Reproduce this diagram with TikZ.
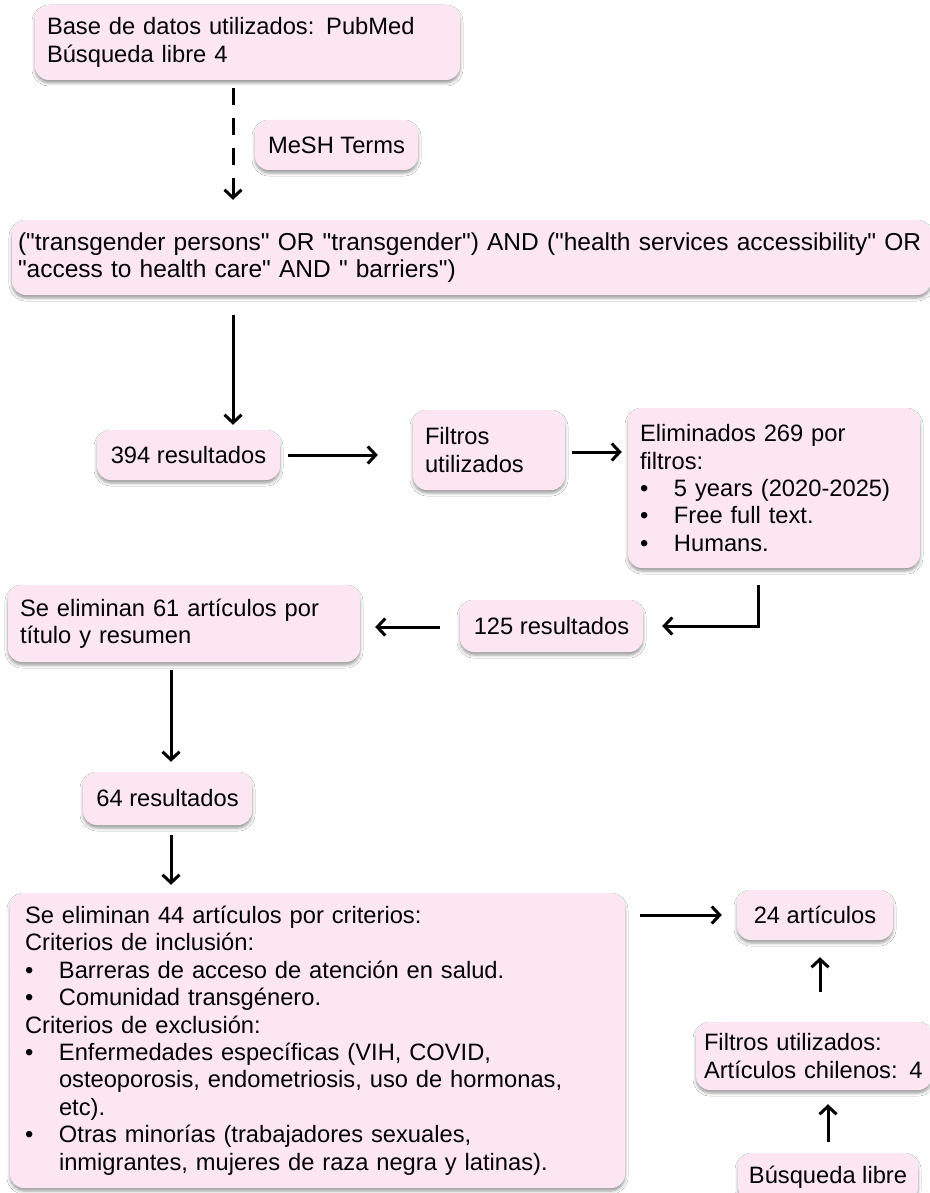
\documentclass[tikz,border=0pt]{standalone}
\usepackage{fontspec}
\setmainfont{Liberation Sans}[Ligatures=TeXOff]
\usetikzlibrary{arrows.meta,shadows.blur}
\definecolor{pinkfill}{HTML}{FCE6F2}
\newcommand{\bl}{\makebox[34pt][l]{•}}
\newcommand{\ind}{\hspace*{34pt}}
\begin{document}
\begin{tikzpicture}[x=1pt,y=-1pt,
  box/.style={rounded corners=14pt, fill=pinkfill, inner ysep=0pt, inner xsep=12pt,
    blur shadow={shadow xshift=0pt, shadow yshift=-3pt, shadow blur radius=3pt, shadow opacity=40},
    font=\fontsize{23.7}{27.4}\selectfont, align=left},
  cbox/.style={box, align=center, inner xsep=0pt},
  arr/.style={-{Straight Barb[length=8pt,width=17pt,line width=3pt]}, line width=3pt},
  darr/.style={arr, dash pattern=on 17pt off 13pt}]
\useasboundingbox (0,0) rectangle (929,1193);
\fill[white] (0,0) rectangle (929,1193);

\node[box, minimum height=75pt, text width=401pt] (top) at (247.5,42.5)
  {Base de datos utilizados: PubMed\\Búsqueda libre 4};
\node[cbox, minimum height=50pt, minimum width=163pt] (mesh) at (336.5,145) {MeSH Terms};
\node[box, minimum height=75pt, text width=907pt, inner xsep=6pt, font=\fontsize{24.5}{27.4}\selectfont] (query) at (471.5,257.5)
  {("transgender persons" OR "transgender") AND ("health services accessibility" OR\\"access to health care" AND " barriers")};
\node[cbox, minimum height=50pt, minimum width=183pt] (r394) at (188.5,455) {394 resultados};
\node[box, minimum height=80pt, text width=128pt] (filt) at (489,450) {Filtros\\utilizados};
\node[box, minimum height=160pt, text width=268pt] (elim) at (774,488)
  {Eliminados 269 por\\filtros:\\\bl 5 years (2020-2025)\\\bl Free full text.\\\bl Humans.};
\node[cbox, minimum height=52pt, minimum width=183pt] (r125) at (551.5,626) {125 resultados};
\node[box, minimum height=77pt, text width=328pt] (se61) at (184,623.5)
  {Se eliminan 61 artículos por\\título y resumen};
\node[cbox, minimum height=53pt, minimum width=169pt] (r64) at (167.5,798.5) {64 resultados};
\node[box, minimum height=295pt, text width=585pt, inner xsep=15pt] (big) at (317.5,1040.5)
  {Se eliminan 44 artículos por criterios:\\
   Criterios de inclusión:\\
   \bl Barreras de acceso de atención en salud.\\
   \bl Comunidad transgénero.\\
   Criterios de exclusión:\\
   \bl Enfermedades específicas (VIH, COVID,\\
   \ind osteoporosis, endometriosis, uso de hormonas,\\
   \ind etc).\\
   \bl Otras minorías (trabajadores sexuales,\\
   \ind inmigrantes, mujeres de raza negra y latinas).};
\node[cbox, minimum height=50pt, minimum width=156pt] (a24) at (815,915) {24 artículos};
\node[box, minimum height=68pt, text width=220pt, inner xsep=8pt] (fchil) at (814,1056)
  {Filtros utilizados:\\Artículos chilenos: 4};
\node[cbox, minimum height=48pt, minimum width=180pt] (bq) at (828,1177) {Búsqueda libre};

\draw[darr, shorten <=8pt, shorten >=20pt] (top.south -| 233,0) -- (query.north -| 233,0);
\draw[arr, shorten <=20pt, shorten >=5pt] (query.south -| 233,0) -- (r394.north -| 233,0);
\draw[arr, shorten <=8pt, shorten >=35pt] (r394.east) -- (filt.west |- r394.east);
\draw[arr, shorten <=7pt, shorten >=6pt] (filt.east |- 0,452) -- (elim.west |- 0,452);
\draw[arr, shorten >=19pt] ([xshift=-16pt,yshift=-17pt]elim.south) |- (r125.east);
\draw[arr, shorten <=20pt, shorten >=15pt] (r125.west |- 0,627) -- (se61.east |- 0,627);
\draw[arr, shorten <=8pt, shorten >=10pt] (se61.south -| 171,0) -- (r64.north -| 171,0);
\draw[arr, shorten <=10pt, shorten >=8pt] (r64.south -| 171,0) -- (big.north -| 171,0);
\draw[arr, shorten <=15pt, shorten >=15pt] (big.east |- a24.west) -- (a24.west);
\draw[arr, shorten <=30pt, shorten >=17pt] (fchil.north -| 820,0) -- (a24.south -| 820,0);
\draw[arr, shorten <=11pt, shorten >=14pt] (bq.north -| 828,0) -- (fchil.south -| 828,0);
\end{tikzpicture}
\end{document}
